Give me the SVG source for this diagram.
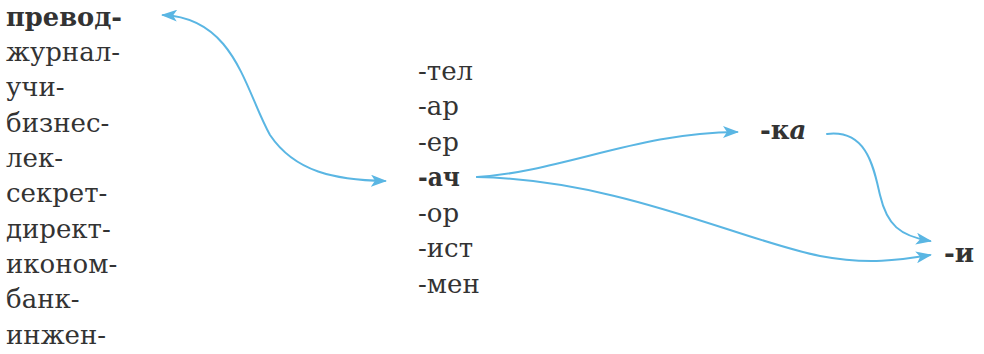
<svg xmlns="http://www.w3.org/2000/svg" width="984" height="354" viewBox="0 0 984 354">
<style>
.t{font-family:'DejaVu Serif','Liberation Serif',serif;font-size:26px;fill:#333}
.b{font-weight:bold}
.i{font-style:italic}
.c{fill:none;stroke:#5ab6e3;stroke-width:2;stroke-linecap:round}
</style>
<defs>
<marker id="ah" viewBox="0 0 16 12" refX="14" refY="6" markerWidth="16" markerHeight="12" markerUnits="userSpaceOnUse" orient="auto-start-reverse">
<path d="M0,0 L16,6 L0,12 L4,6 z" fill="#5ab6e3"/>
</marker>
</defs>
<rect width="984" height="354" fill="#fff"/>
<g id="stems" class="t">
<text x="6" y="26" class="b" textLength="116" lengthAdjust="spacingAndGlyphs">превод-</text>
<text x="6" y="61">журнал-</text>
<text x="6" y="96">учи-</text>
<text x="6" y="132">бизнес-</text>
<text x="6" y="167">лек-</text>
<text x="6" y="202">секрет-</text>
<text x="6" y="238">директ-</text>
<text x="6" y="273">иконом-</text>
<text x="6" y="308">банк-</text>
<text x="6" y="344">инжен-</text>
</g>
<g id="suffixes" class="t">
<text x="418" y="80">-тел</text>
<text x="418" y="115">-ар</text>
<text x="418" y="151">-ер</text>
<text x="418" y="186" class="b" textLength="42" lengthAdjust="spacingAndGlyphs">-ач</text>
<text x="418" y="222">-ор</text>
<text x="418" y="257">-ист</text>
<text x="418" y="293">-мен</text>
</g>
<g id="ka" class="t"><text x="760" y="139" class="b">-к<tspan class="i">а</tspan></text></g>
<g id="i" class="t"><text x="944" y="262" class="b">-и</text></g>
<g id="connectors">
<path class="c" d="M163 15 C235 18 245 90 270 135 C295 172 335 180 385 181" marker-start="url(#ah)" marker-end="url(#ah)"/>
<path class="c" d="M477 177 C560 172 640 132 737 132" marker-end="url(#ah)"/>
<path class="c" d="M477 177 C620 180 740 240 820 256 C868 265 900 260 930 255" marker-end="url(#ah)"/>
<path class="c" d="M827 134 C868 129 874 170 880 195 C887 225 900 236 930 241" marker-end="url(#ah)"/>
</g>
</svg>
